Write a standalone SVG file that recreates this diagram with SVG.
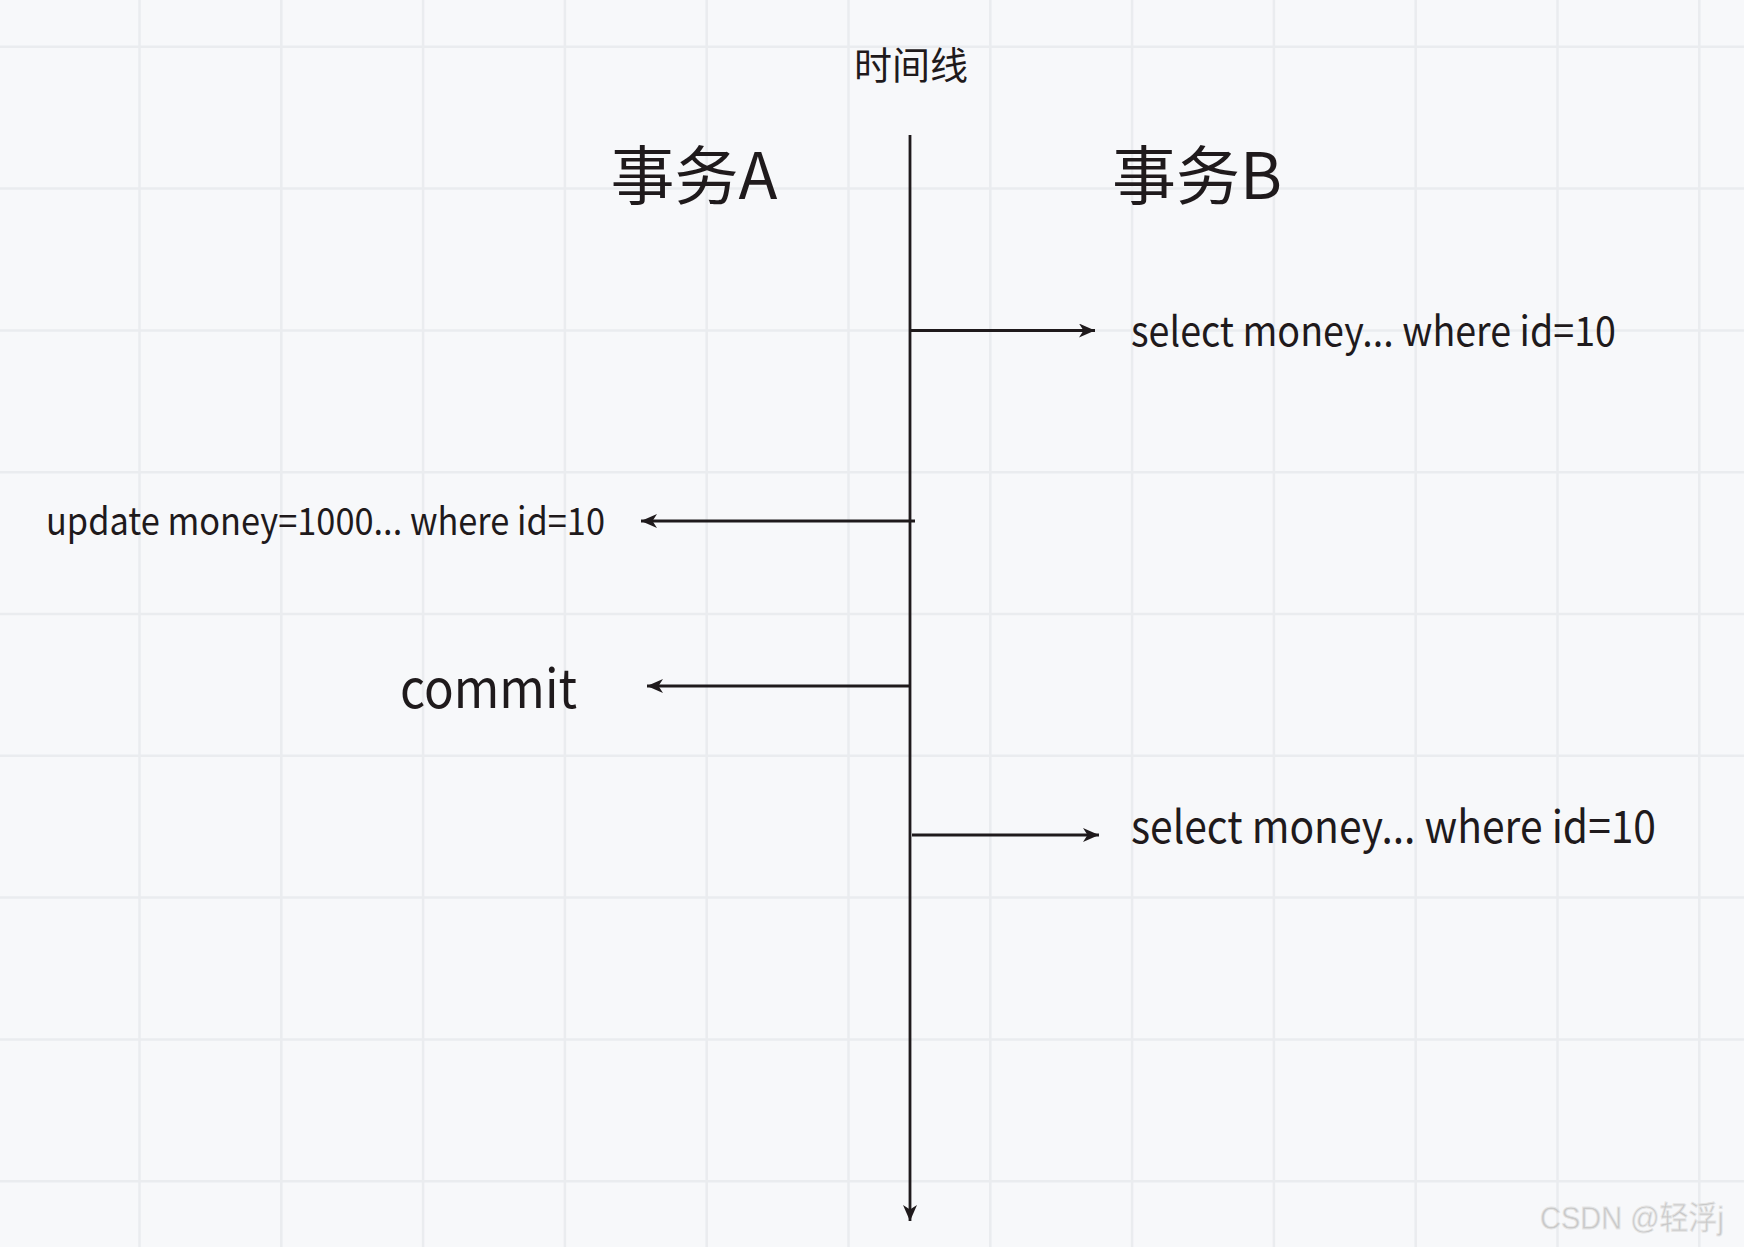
<svg xmlns="http://www.w3.org/2000/svg" width="1744" height="1247" viewBox="0 0 1744 1247">
<defs>
<style>
.grid{stroke:#eaecef;stroke-width:2.5;fill:none}
.conn{stroke:#1f1a1c;stroke-width:2.8;fill:none}
.t{font-family:"Noto Sans CJK SC","Noto Sans",sans-serif;fill:#1f1a1c}
.wm{font-family:"Liberation Sans","Noto Sans CJK SC",sans-serif;fill:#c9c9c9;stroke:#e6e6e6;stroke-width:0.8}
</style>
<marker id="ah" markerUnits="userSpaceOnUse" markerWidth="18" markerHeight="16" refX="16" refY="7" orient="auto">
<path d="M0,0 L16,7 L0,14 L4.5,7 Z" fill="#1f1a1c"/>
</marker>
</defs>
<rect width="1744" height="1247" fill="#f7f8fa"/>
<g id="grid" class="grid">
<path d="M139.5,0V1247M281.3,0V1247M423.1,0V1247M564.9,0V1247M706.7,0V1247M848.5,0V1247M990.3,0V1247M1132.1,0V1247M1273.9,0V1247M1415.7,0V1247M1557.5,0V1247M1699.3,0V1247"/>
<path d="M0,46.8H1744M0,188.6H1744M0,330.4H1744M0,472.2H1744M0,614H1744M0,755.8H1744M0,897.6H1744M0,1039.4H1744M0,1181.2H1744"/>
</g>
<g id="connectors">
<line class="conn" x1="910" y1="135" x2="910" y2="1221" marker-end="url(#ah)"/>
<line class="conn" x1="910" y1="330.5" x2="1095" y2="330.5" marker-end="url(#ah)"/>
<line class="conn" x1="915" y1="521" x2="641" y2="521" marker-end="url(#ah)"/>
<line class="conn" x1="910" y1="686" x2="647" y2="686" marker-end="url(#ah)"/>
<line class="conn" x1="912" y1="835" x2="1099" y2="835" marker-end="url(#ah)"/>
</g>
<g id="title"><text class="t" x="911" y="79" font-size="38" text-anchor="middle">时间线</text></g>
<g id="txA"><text class="t" x="694" y="199" font-size="64" text-anchor="middle">事务A</text></g>
<g id="txB"><text class="t" x="1197" y="199" font-size="64" text-anchor="middle">事务B</text></g>
<g id="select1"><text class="t" x="1131" y="346" font-size="41" textLength="485" lengthAdjust="spacingAndGlyphs">select money... where id=10</text></g>
<g id="update"><text class="t" x="46" y="535" font-size="38" textLength="559" lengthAdjust="spacingAndGlyphs">update money=1000... where id=10</text></g>
<g id="commit"><text class="t" x="400" y="708" font-size="54" textLength="177" lengthAdjust="spacingAndGlyphs">commit</text></g>
<g id="select2"><text class="t" x="1131" y="843" font-size="45" textLength="525" lengthAdjust="spacingAndGlyphs">select money... where id=10</text></g>
<g id="watermark"><text class="wm" x="1540" y="1229" font-size="32" textLength="184" lengthAdjust="spacingAndGlyphs">CSDN @轻浮j</text></g>
</svg>
